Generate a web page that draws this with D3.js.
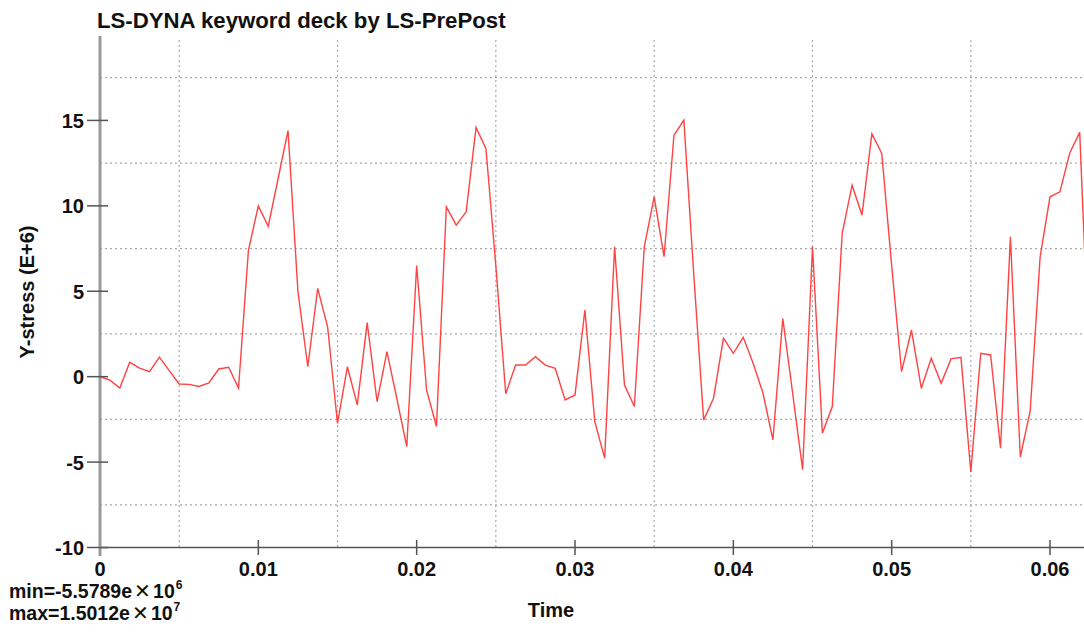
<!DOCTYPE html>
<html>
<head>
<meta charset="utf-8">
<script src="https://cdn.jsdelivr.net/npm/d3@7"></script>
<style>
  html, body { margin: 0; padding: 0; background: #fff; }
  svg { display: block; }
  text { font-family: "Liberation Sans", Arial, sans-serif; }
</style>
</head>
<body>
<svg id="chart" width="1084" height="634"></svg>
<script>
const times = [0, 0.000625, 0.00125, 0.001875, 0.0025, 0.003125, 0.00375, 0.004375, 0.005, 0.005625,
  0.00625, 0.006875, 0.0075, 0.008125, 0.00875, 0.009375, 0.01, 0.010625, 0.01125, 0.011875,
  0.0125, 0.013125, 0.01375, 0.014375, 0.015, 0.015625, 0.01625, 0.016875, 0.0175, 0.018125,
  0.01875, 0.019375, 0.02, 0.020625, 0.02125, 0.021875, 0.0225, 0.023125, 0.02375, 0.024375,
  0.025, 0.025625, 0.02625, 0.026875, 0.0275, 0.028125, 0.02875, 0.029375, 0.03, 0.030625,
  0.03125, 0.031875, 0.0325, 0.033125, 0.03375, 0.034375, 0.035, 0.035625, 0.03625, 0.036875,
  0.0375, 0.038125, 0.03875, 0.039375, 0.04, 0.040625, 0.04125, 0.041875, 0.0425, 0.043125,
  0.04375, 0.044375, 0.045, 0.045625, 0.04625, 0.046875, 0.0475, 0.048125, 0.04875, 0.049375,
  0.05, 0.050625, 0.05125, 0.051875, 0.0525, 0.053125, 0.05375, 0.054375, 0.055, 0.055625,
  0.05625, 0.056875, 0.0575, 0.058125, 0.05875, 0.059375, 0.06, 0.060625, 0.06125, 0.061875,
  0.0625];

const yStress = [0, -0.2, -0.67, 0.84, 0.5, 0.3, 1.14, 0.35, -0.43, -0.45,
  -0.57, -0.37, 0.45, 0.55, -0.67, 7.4, 10.0, 8.8, 11.6, 14.4,
  5.0, 0.58, 5.17, 2.92, -2.73, 0.58, -1.65, 3.16, -1.46, 1.46,
  -1.3, -4.09, 6.5, -0.78, -2.92, 9.94, 8.87, 9.65, 14.58, 13.36,
  6.5, -1.0, 0.68, 0.68, 1.17, 0.68, 0.49, -1.36, -1.07, 3.9,
  -2.63, -4.77, 7.6, -0.49, -1.75, 7.6, 10.53, 7.02, 14.13, 15.012,
  6.0, -2.53, -1.26, 2.25, 1.37, 2.3, 0.78, -0.97, -3.7, 3.4,
  -1.0, -5.45, 7.6, -3.31, -1.75, 8.39, 11.21, 9.46, 14.23, 13.06,
  6.5, 0.29, 2.73, -0.68, 1.08, -0.39, 1.04, 1.13, -5.5789, 1.37,
  1.27, -4.19, 8.19, -4.7, -2.0, 7.0, 10.53, 10.82, 13.1, 14.3,
  0.3];

const yTicks = [-10, -5, 0, 5, 10, 15];
const yGrid = [-7.5, -2.5, 2.5, 7.5, 12.5, 17.5];
const xTicks = [0, 0.01, 0.02, 0.03, 0.04, 0.05, 0.06];
const xTickLabels = ["0", "0.01", "0.02", "0.03", "0.04", "0.05", "0.06"];
const xGrid = [0.005, 0.015, 0.025, 0.035, 0.045, 0.055];

const titleText = "LS-DYNA keyword deck by LS-PrePost";
const yLabel = "Y-stress (E+6)";
const xLabel = "Time";
const minText = ["min=-5.5789e", "\u2715", "10", "6"];
const maxText = ["max=1.5012e", "\u2715", "10", "7"];

(function () {
const svg = d3.select("#chart");
const pL = 100, pR = 1084, pT = 35, pB = 547.5;

const x = d3.scaleLinear().domain([0, 0.06]).range([pL, 1050]);
const y = d3.scaleLinear().domain([-10, 20]).range([pB, pT]);

// grid
svg.append("g").selectAll("line").data(yGrid).join("line")
  .attr("x1", pL).attr("x2", pR)
  .attr("y1", d => y(d)).attr("y2", d => y(d))
  .attr("stroke", "#aaa").attr("stroke-width", 1.2).attr("stroke-dasharray", "2,3");
svg.append("g").selectAll("line").data(xGrid).join("line")
  .attr("x1", d => x(d)).attr("x2", d => x(d))
  .attr("y1", 40).attr("y2", pB)
  .attr("stroke", "#aaa").attr("stroke-width", 1.2).attr("stroke-dasharray", "2,3");

// clip
svg.append("clipPath").attr("id", "clip").append("rect")
  .attr("x", pL).attr("y", 0).attr("width", pR - pL).attr("height", 634);

// line
const line = d3.line().x((d, i) => x(times[i])).y(d => y(d));
svg.append("path").datum(yStress)
  .attr("clip-path", "url(#clip)")
  .attr("d", line)
  .attr("fill", "none").attr("stroke", "#ff4242").attr("stroke-width", 1.4)
  .attr("stroke-linejoin", "miter");

// x axis
svg.append("line").attr("x1", pL).attr("x2", pR).attr("y1", pB).attr("y2", pB)
  .attr("stroke", "#555").attr("stroke-width", 1.5);
svg.append("g").selectAll("line").data(xTicks).join("line")
  .attr("x1", d => x(d)).attr("x2", d => x(d)).attr("y1", 540).attr("y2", 555)
  .attr("stroke", "#555").attr("stroke-width", 1.5);
svg.append("g").selectAll("text").data(xTicks).join("text")
  .attr("x", d => x(d)).attr("y", 576)
  .attr("text-anchor", "middle").attr("font-size", 20).attr("font-weight", "bold")
  .attr("fill", "#111")
  .text((d, i) => xTickLabels[i]);

// y axis
svg.append("line").attr("x1", pL).attr("x2", pL).attr("y1", pT + 1).attr("y2", 556)
  .attr("stroke", "#999").attr("stroke-width", 3);
svg.append("g").selectAll("line").data(yTicks).join("line")
  .attr("x1", 87).attr("x2", 108).attr("y1", d => y(d)).attr("y2", d => y(d))
  .attr("stroke", "#555").attr("stroke-width", 1.5);
svg.append("g").selectAll("text").data(yTicks).join("text")
  .attr("x", 84).attr("y", d => y(d) + 7.5)
  .attr("text-anchor", "end").attr("font-size", 20).attr("font-weight", "bold")
  .attr("fill", "#111")
  .text(d => d);

// title
svg.append("text").attr("x", 97).attr("y", 27.5)
  .attr("font-size", 22.2).attr("font-weight", "bold").attr("fill", "#111")
  .text(titleText);

// axis labels
svg.append("text").attr("transform", "translate(34,292) rotate(-90)")
  .attr("text-anchor", "middle").attr("font-size", 20).attr("font-weight", "bold")
  .attr("fill", "#111").text(yLabel);
svg.append("text").attr("x", 551).attr("y", 617)
  .attr("text-anchor", "middle").attr("font-size", 20).attr("font-weight", "bold")
  .attr("fill", "#111").text(xLabel);

// min / max
function mmText(parts, yy) {
  const t = svg.append("text").attr("x", 9).attr("y", yy)
    .attr("font-size", 19.5).attr("font-weight", "bold").attr("fill", "#111");
  t.append("tspan").text(parts[0]);
  t.append("tspan").attr("font-weight", "normal").attr("font-size", 19.5).attr("dx", 2).text(parts[1]);
  t.append("tspan").attr("dx", 2).text(parts[2]);
  t.append("tspan").attr("font-size", 12).attr("dy", -9).attr("dx", 1).text(parts[3]);
}
mmText(minText, 597.5);
mmText(maxText, 620);
})();
</script>
</body>
</html>
